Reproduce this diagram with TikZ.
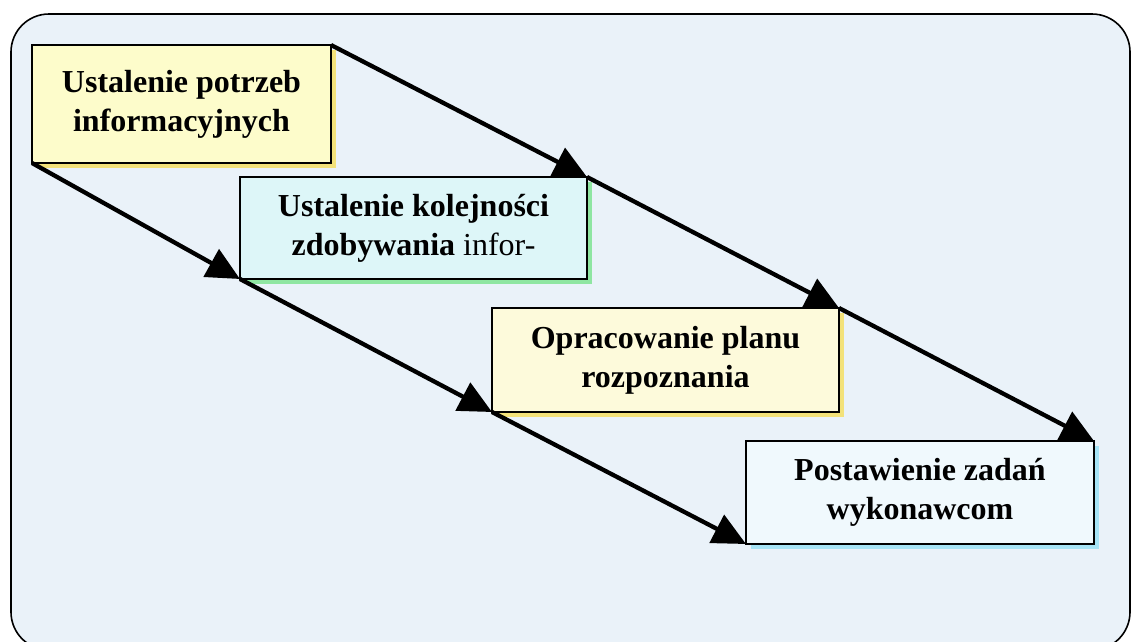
\documentclass[tikz,border=0pt]{standalone}
\usepackage{fontspec}
\setmainfont{Liberation Serif}
\usetikzlibrary{arrows.meta,shadows}
\definecolor{bgblue}{HTML}{EAF2F9}
\definecolor{yelfill}{HTML}{FDFCCB}
\definecolor{yelfillb}{HTML}{FDFADB}
\definecolor{cyanfill}{HTML}{DDF6F8}
\definecolor{palefill}{HTML}{F0F9FD}
\definecolor{yelshadow}{HTML}{F3E27A}
\definecolor{greenshadow}{HTML}{8FE6A2}
\definecolor{cyanshadow}{HTML}{A6E4F6}
\tikzset{
  boxst/.style={draw=black, line width=2.2pt, outer sep=0pt, inner sep=0pt,
    align=center, font=\fontsize{32}{39}\selectfont\bfseries},
  shad/.style={general shadow={fill=#1, draw=none, shadow xshift=5pt, shadow yshift=-5pt}},
  arr/.style={line width=4.3pt, -{Triangle[length=33pt,width=31pt]}},
  frame/.style={draw=black, line width=1.6pt, fill=bgblue, rounded corners=38pt}
}
\begin{document}
\begin{tikzpicture}[x=1pt,y=-1pt]
\useasboundingbox (0,0) rectangle (1132,641);
\clip (0,0) rectangle (1132,641);
\fill[white] (0,0) rectangle (1132,641);
\path[frame] (11,14) rectangle (1130,650);
\node[boxst, shad=yelshadow, fill=yelfill, minimum width=299pt, minimum height=118pt] (b1) at (181.5,104) {Ustalenie potrzeb\\informacyjnych};
\node[boxst, shad=greenshadow, fill=cyanfill, minimum width=347pt, minimum height=102pt] (b2) at (413.5,228) {Ustalenie kolejności\\zdobywania {\mdseries infor-}};
\node[boxst, shad=yelshadow, fill=yelfillb, minimum width=347pt, minimum height=104pt] (b3) at (665.5,360) {Opracowanie planu\\rozpoznania};
\node[boxst, shad=cyanshadow, fill=palefill, minimum width=348pt, minimum height=103pt] (b4) at (920,492.5) {Postawienie zadań\\wykonawcom};
\draw[arr] (b1.north east) -- (b2.north east);
\draw[arr] (b2.north east) -- (b3.north east);
\draw[arr] (b3.north east) -- (b4.north east);
\draw[arr] (b1.south west) -- (b2.south west);
\draw[arr] (b2.south west) -- (b3.south west);
\draw[arr] (b3.south west) -- (b4.south west);
\end{tikzpicture}
\end{document}
